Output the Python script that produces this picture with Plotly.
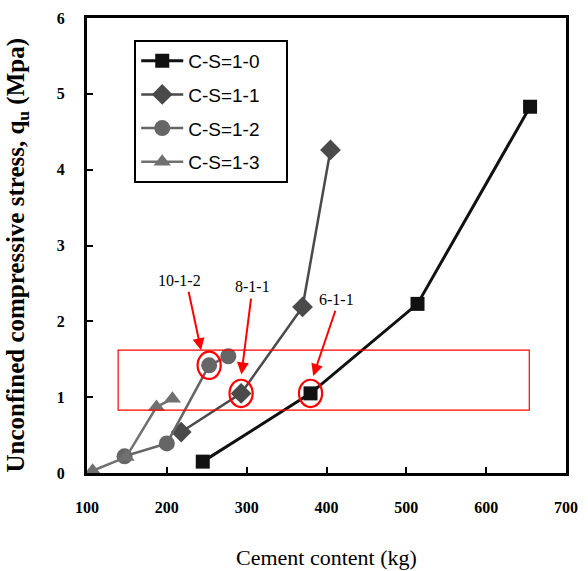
import plotly.graph_objects as go

# ---- data ----
series_names = ["C-S=1-0", "C-S=1-1", "C-S=1-2", "C-S=1-3"]
x_cs10 = [245, 380, 514, 655]
y_cs10 = [0.15, 1.05, 2.23, 4.83]
x_cs11 = [218, 293, 370, 405]
y_cs11 = [0.54, 1.05, 2.19, 4.26]
x_cs12 = [147, 200, 253, 277]
y_cs12 = [0.22, 0.39, 1.42, 1.54]
x_cs13 = [107, 149, 187, 207]
y_cs13 = [0.03, 0.21, 0.87, 0.98]

x_ticks = [100, 200, 300, 400, 500, 600, 700]
y_ticks = [0, 1, 2, 3, 4, 5, 6]

# highlighted samples: label, x, y (data point circled)
hl_labels = ["10-1-2", "8-1-1", "6-1-1"]
hl_x = [253, 293, 380]
hl_y = [1.42, 1.05, 1.05]

# ---- styles ----
colors = ["#111111", "#4a4a4a", "#666666", "#707070"]
symbols = ["square", "diamond", "circle", "triangle-up"]
msizes = [14, 16, 16, 15]
lwidths = [3, 2.5, 2.5, 2.5]

xs = [x_cs10, x_cs11, x_cs12, x_cs13]
ys = [y_cs10, y_cs11, y_cs12, y_cs13]

fig = go.Figure()
for i, name in enumerate(series_names):
    fig.add_trace(go.Scatter(
        x=xs[i], y=ys[i], name=name + "\u00a0" * 4, mode="lines+markers",
        line=dict(color=colors[i], width=lwidths[i]),
        marker=dict(symbol=symbols[i], size=msizes[i], color=colors[i]),
        legendgroup=name,
    ))

shapes = []
# red rectangle
shapes.append(dict(type="rect", xref="x", yref="y", x0=139, x1=654, y0=0.83, y1=1.62,
                   line=dict(color="#ff0000", width=1.2)))
# red ellipses
dx, dy = 14.5, 0.18
for hx, hy in zip(hl_x, hl_y):
    shapes.append(dict(type="circle", xref="x", yref="y",
                       x0=hx - dx, x1=hx + dx, y0=hy - dy, y1=hy + dy,
                       line=dict(color="#ff0000", width=2.2)))

annotations = []
text_pos = [(215.8, 2.54), (307, 2.46), (412.9, 2.29)]
arrow_tail = [(226.9, 2.41), (305.7, 2.32), (411.7, 2.16)]
arrow_tip = [(242.9, 1.62), (293.4, 1.30), (383.4, 1.28)]
for lab, tp, tl, tip in zip(hl_labels, text_pos, arrow_tail, arrow_tip):
    annotations.append(dict(x=tp[0], y=tp[1], xref="x", yref="y", text=lab,
                            showarrow=False,
                            font=dict(family="Liberation Serif", size=16, color="black")))
    annotations.append(dict(x=tip[0], y=tip[1], ax=tl[0], ay=tl[1], xref="x", yref="y",
                            axref="x", ayref="y", text="", showarrow=True,
                            arrowhead=2, arrowsize=1.2, arrowwidth=2, arrowcolor="#ff0000",
                            standoff=0, startstandoff=0))

# axis titles
annotations.append(dict(x=0.5, y=0, xref="paper", yref="paper", yshift=-84,
                        text="Cement content (kg)", showarrow=False, yanchor="middle",
                        font=dict(family="Liberation Serif", size=22, color="black")))
annotations.append(dict(x=0, y=0.5, xref="paper", yref="paper", xshift=-70, yshift=-10,
                        text="<b>Unconfined compressive stress, q<sub>u</sub> (Mpa)</b>",
                        textangle=-90, showarrow=False, xanchor="center",
                        font=dict(family="Liberation Serif", size=25, color="black")))

axis_common = dict(showline=True, mirror=True, linewidth=3, linecolor="black",
                   ticks="inside", ticklen=6, tickwidth=2, tickcolor="black",
                   showgrid=False, zeroline=False,
                   tickfont=dict(family="Liberation Serif", size=16, color="black"))

fig.update_layout(
    width=588, height=571,
    margin=dict(l=87, r=14, t=10, b=98),
    paper_bgcolor="white", plot_bgcolor="white",
    xaxis=dict(range=[100, 700], tickvals=x_ticks,
               ticktext=[f"<b>{v}</b>" for v in x_ticks],
               ticklabelstandoff=18, **axis_common),
    yaxis=dict(range=[0, 6], tickvals=y_ticks,
               ticktext=[f"<b>{v}</b>" for v in y_ticks],
               ticklabelstandoff=16, **axis_common),
    showlegend=True,
    legend=dict(x=0.0986, y=0.952, xanchor="left", yanchor="top",
                bgcolor="white", bordercolor="black", borderwidth=2,
                font=dict(family="Liberation Sans", size=19, color="black"),
                tracegroupgap=6, traceorder="grouped", itemwidth=42),
    shapes=shapes, annotations=annotations,
)

fig.write_html("out.html", config={"displayModeBar": False},
               post_script="document.body.style.margin='0';document.body.style.overflow='hidden';")
